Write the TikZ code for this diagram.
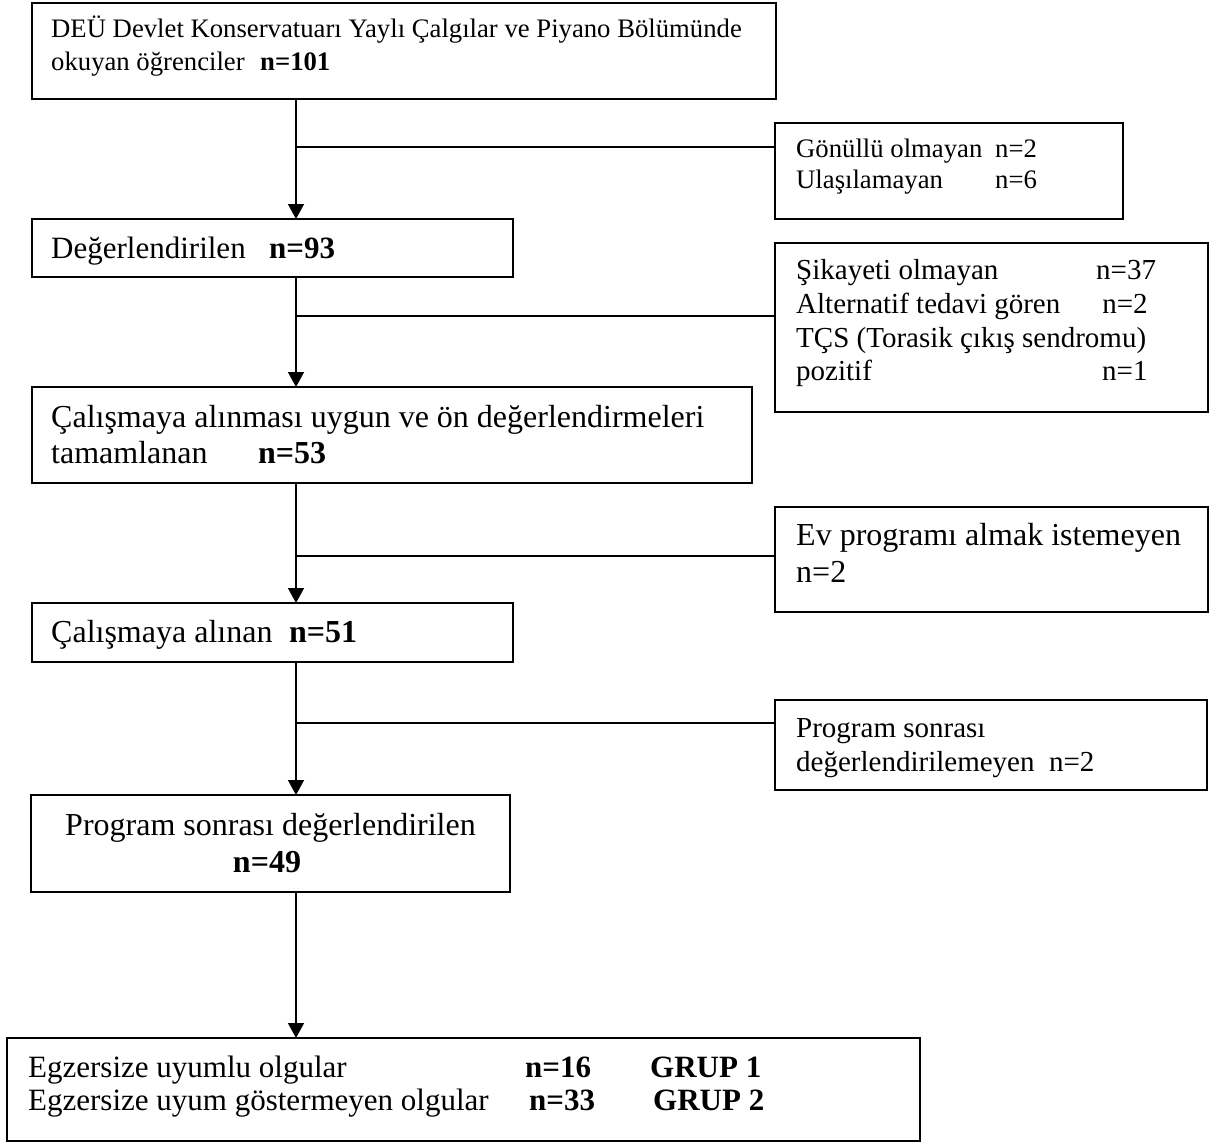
\documentclass[tikz,border=0pt]{standalone}
\usepackage{fontspec}
\setmainfont{Liberation Serif}
\usetikzlibrary{arrows.meta}

\begin{document}
\begin{tikzpicture}
[x=1pt,y=-1pt,
  lineDecorate/.style={-,line width=1.5pt},%
  arrowDecorate/.style={-{Triangle[length=15pt,width=16pt]},line width=1.5pt},%
  boxDecorate/.style={shape=rectangle,draw,line width=1.5pt,inner sep=0pt,outer sep=0pt,anchor=north west},%
  textDecorate/.style={inner sep=0pt,anchor=base west}]
\useasboundingbox[fill=white] (0,0) rectangle (1209,1143);
%% boxes
\foreach \nodename/\x/\y/\w/\h in {b1/32/3/744/96, b2/32/219/481/58, b3/32/387/720/96,
  b4/32/603/481/59, b5/31/795/479/97, b6/7/1038/913/103,
  s1/775/123/348/96, s2/775/243/433/169, s3/775/507/433/105, s4/775/700/432/90}
{
  \node (\nodename) at (\x,\y) [boxDecorate,minimum width=\w pt,minimum height=\h pt] {};
}
%% texts
\foreach \nodename/\x/\y/\fs/\txt in {
  t1a/51/37/26.7/{DEÜ Devlet Konservatuarı Yaylı Çalgılar ve Piyano Bölümünde},
  t1b/51/70/26.7/{\makebox[209pt][l]{okuyan öğrenciler}\textbf{n=101}},
  t2/51/258/31/{\makebox[218pt][l]{Değerlendirilen}\textbf{n=93}},
  t3a/51/427/32/{Çalışmaya alınması uygun ve ön değerlendirmeleri},
  t3b/51/463/32/{\makebox[207pt][l]{tamamlanan}\textbf{n=53}},
  t4/51/642/32/{\makebox[238pt][l]{Çalışmaya alınan}\textbf{n=51}},
  t6a/28/1077/31/{\makebox[497pt][l]{Egzersize uyumlu olgular}\makebox[125pt][l]{\textbf{n=16}}\textbf{GRUP 1}},
  t6b/28/1110/31/{\makebox[501pt][l]{Egzersize uyum göstermeyen olgular}\makebox[124pt][l]{\textbf{n=33}}\textbf{GRUP 2}},
  s1a/796/157/26.7/{\makebox[199pt][l]{Gönüllü olmayan}n=2},
  s1b/796/188/26.7/{\makebox[199pt][l]{Ulaşılamayan}n=6},
  s2a/796/279/29/{\makebox[300pt][l]{Şikayeti olmayan}n=37},
  s2b/796/313/29/{\makebox[306pt][l]{Alternatif tedavi gören}n=2},
  s2c/796/347/29/{TÇS (Torasik çıkış sendromu)},
  s2d/796/380/29/{\makebox[306pt][l]{pozitif}n=1},
  s3a/796/545/32/{Ev programı almak istemeyen},
  s3b/796/582/32/{n=2},
  s4a/796/737/29/{Program sonrası},
  s4b/796/771/29/{değerlendirilemeyen\ \ n=2}}
{
  \node (\nodename) at (\x,\y) [textDecorate,font=\fontsize{\fs}{\fs}\selectfont] {\txt};
}
\node (t5a) at (270.5,835) [textDecorate,anchor=base,font=\fontsize{32}{32}\selectfont] {Program sonrası değerlendirilen};
\node (t5b) at (267,872) [textDecorate,anchor=base,font=\fontsize{32}{32}\selectfont] {\textbf{n=49}};
%% connectors
\coordinate (spine) at (296,0);
\foreach \upper/\lower in {b1/b2, b2/b3, b3/b4, b4/b5, b5/b6}
{
  \draw[arrowDecorate] (\upper.south -| spine) -- (\lower.north -| spine);
}
\foreach \side/\y in {s1/147, s2/316, s3/556, s4/723}
{
  \coordinate (j\side) at (296,\y);
  \draw[lineDecorate] (j\side) -- (j\side -| \side.west);
}
\end{tikzpicture}
\end{document}
